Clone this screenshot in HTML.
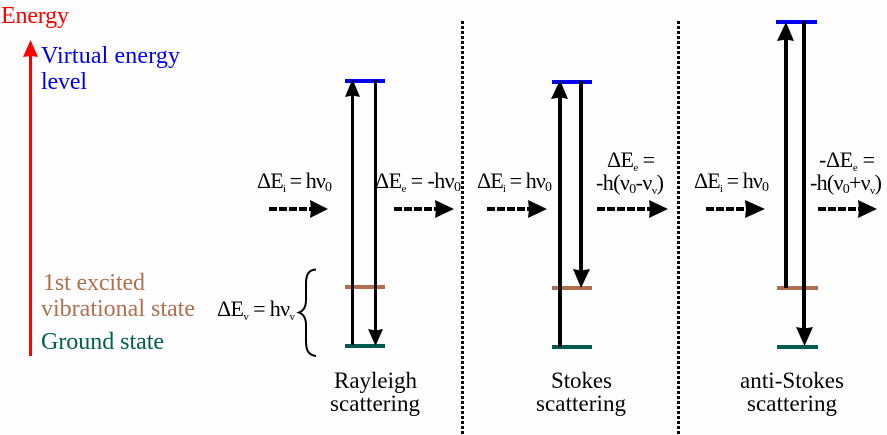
<!DOCTYPE html>
<html><head><meta charset="utf-8"><style>
html,body{margin:0;padding:0;background:#fefefe;width:887px;height:435px;overflow:hidden}
svg{display:block}
text{font-family:"Liberation Serif","DejaVu Serif",serif;font-size:24px;fill:#000}
.c{font-size:23px}
.e{font-size:22px}
.s{font-size:11px}
.z{font-size:14px}
</style></head><body>
<svg width="887" height="435" viewBox="0 0 887 435" xmlns="http://www.w3.org/2000/svg">
<rect width="887" height="435" fill="#fefefe"/>
<!-- dotted dividers -->
<g shape-rendering="crispEdges" stroke="#000" stroke-width="3" stroke-dasharray="3 2" fill="none">
<line x1="462.5" y1="21" x2="462.5" y2="435"/>
<line x1="678.5" y1="21" x2="678.5" y2="435"/>
</g>
<!-- levels -->
<g shape-rendering="crispEdges">
<rect x="345" y="79" width="40" height="4" fill="#0000f0"/>
<rect x="552" y="80" width="40" height="4" fill="#0000f0"/>
<rect x="776" y="20" width="41" height="4" fill="#0000f0"/>
<rect x="345" y="285" width="40" height="4" fill="#b07050"/>
<rect x="552" y="286" width="40" height="4" fill="#b07050"/>
<rect x="777" y="286" width="41" height="4" fill="#b07050"/>
<rect x="345" y="344" width="40" height="4" fill="#005a50"/>
<rect x="552" y="345" width="40" height="4" fill="#005a50"/>
<rect x="777" y="345" width="41" height="4" fill="#005a50"/>
<!-- vertical shafts -->
<rect x="29" y="55" width="3" height="301" fill="#f00"/>
<rect x="351" y="92" width="3" height="253" fill="#000"/>
<rect x="374" y="80" width="3" height="252" fill="#000"/>
<rect x="558" y="94" width="4" height="253" fill="#000"/>
<rect x="579" y="81" width="4" height="191" fill="#000"/>
<rect x="784" y="36" width="4" height="252" fill="#000"/>
<rect x="802" y="21" width="4" height="309" fill="#000"/>
</g>
<!-- arrow heads -->
<polygon points="30.500,40 38,57 30.500,56 23,57" fill="#f00"/>
<g fill="#000">
<polygon points="352.500,79 360,97 352.500,95.500 345,97"/>
<polygon points="375.500,346 383,329 375.500,330.500 368,329"/>
<polygon points="560,80 568,99 560,97.500 551,99"/>
<polygon points="581,288 590,269 581,270.500 573,269"/>
<polygon points="786,22 794,41 786,39.500 777,41"/>
<polygon points="804.500,346 813,327 804.500,328.500 796,327"/>
</g>
<!-- dashed horizontal arrows -->
<g shape-rendering="crispEdges" stroke="#000" stroke-width="4" stroke-dasharray="8 2" fill="none">
<line x1="269" y1="209" x2="312" y2="209"/>
<line x1="394" y1="209" x2="437" y2="209"/>
<line x1="487" y1="209" x2="530" y2="209"/>
<line x1="597" y1="209" x2="651" y2="209"/>
<line x1="706" y1="209" x2="747" y2="209"/>
<line x1="818" y1="209" x2="860" y2="209"/>
</g>
<g fill="#000">
<polygon points="310,200 328,209 310,218 311,209"/>
<polygon points="435,200 454,209 435,218 436,209"/>
<polygon points="528,200 547,209 528,218 529,209"/>
<polygon points="649,200 668,209 649,218 650,209"/>
<polygon points="745,200 765,209 745,218 746,209"/>
<polygon points="858,200 877,209 858,218 859,209"/>
</g>
<!-- brace -->
<path d="M316 269.500 C308 270 306 275 306 284 L306 300 C306 307 303 311 299 312.500 C303 314 306 318 306 325 L306 341 C306 350 308 355 316 356" fill="none" stroke="#000" stroke-width="2"/>
<!-- left labels -->
<text x="1" y="23" textLength="68" style="fill:#f00">Energy</text>
<text x="41" y="63" textLength="139" style="fill:#0000f0">Virtual energy</text>
<text x="41" y="89" textLength="46" style="fill:#0000f0">level</text>
<text x="43" y="290" textLength="102" style="fill:#b07050">1st excited</text>
<text x="41" y="316" textLength="154" style="fill:#b07050">vibrational state</text>
<text x="41" y="349" textLength="123" style="fill:#006050">Ground state</text>
<!-- energy formulas -->
<text class="e" x="217" y="316" textLength="78">ΔE<tspan class="s" dy="4">v</tspan><tspan dy="-4"> = hν</tspan><tspan class="s" dy="4">v</tspan></text>
<text class="e" x="257" y="188" textLength="75">ΔE<tspan class="s" dy="4">i</tspan><tspan dy="-4"> = hν</tspan><tspan class="z" dy="3">0</tspan></text>
<text class="e" x="375" y="188" textLength="86">ΔE<tspan class="s" dy="4">e</tspan><tspan dy="-4"> = -hν</tspan><tspan class="z" dy="3">0</tspan></text>
<text class="e" x="477" y="188" textLength="75">ΔE<tspan class="s" dy="4">i</tspan><tspan dy="-4"> = hν</tspan><tspan class="z" dy="3">0</tspan></text>
<text class="e" x="694" y="188" textLength="75">ΔE<tspan class="s" dy="4">i</tspan><tspan dy="-4"> = hν</tspan><tspan class="z" dy="3">0</tspan></text>
<text class="e" x="607" y="167" textLength="48">ΔE<tspan class="s" dy="4">e</tspan><tspan dy="-4"> =</tspan></text>
<text class="e" x="596" y="190" textLength="68">-h(ν<tspan class="z" dy="3">0</tspan><tspan dy="-3">-ν</tspan><tspan class="s" dy="4">v</tspan><tspan dy="-4">)</tspan></text>
<text class="e" x="819" y="167" textLength="56">-ΔE<tspan class="s" dy="4">e</tspan><tspan dy="-4"> =</tspan></text>
<text class="e" x="810" y="190" textLength="72">-h(ν<tspan class="z" dy="3">0</tspan><tspan dy="-3">+ν</tspan><tspan class="s" dy="4">v</tspan><tspan dy="-4">)</tspan></text>
<!-- captions -->
<text class="c" x="334" y="388" textLength="83">Rayleigh</text>
<text class="c" x="330" y="411" textLength="90">scattering</text>
<text class="c" x="551" y="388" textLength="61">Stokes</text>
<text class="c" x="536" y="411" textLength="90">scattering</text>
<text class="c" x="740" y="388" textLength="104">anti-Stokes</text>
<text class="c" x="747" y="411" textLength="90">scattering</text>
</svg>
</body></html>
